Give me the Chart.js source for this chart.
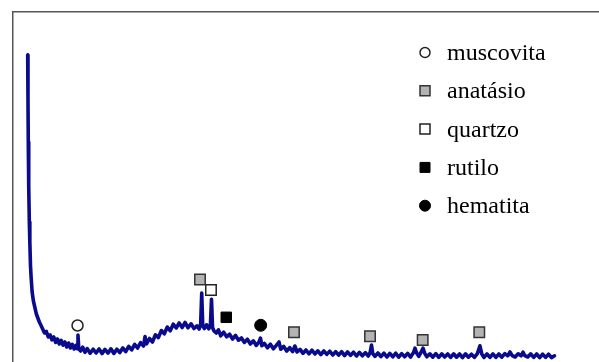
<!DOCTYPE html>
<html>
<head>
<meta charset="utf-8">
<script src="https://cdn.jsdelivr.net/npm/chart.js@4/dist/chart.umd.min.js"></script>
<style>
html,body{margin:0;padding:0;background:#fff;overflow:hidden;}
#wrap{width:599px;height:362px;position:relative;}
</style>
</head>
<body>
<div id="wrap"><canvas id="c" width="599" height="362"></canvas></div>
<script>
// XRD pattern: 2-theta (degrees) and intensity (counts)
const twoTheta = [1.98,2.02,2.06,2.12,2.2,2.27,2.36,2.45,2.58,2.75,2.95,3.15,3.35,3.55,3.75,4.0,
  4.25,4.5,4.75,5.0,5.25,5.5,5.75,6.0,6.25,6.5,6.75,7.0,7.25,7.5,7.75,8.0,8.25,8.5,8.65,8.76,8.87,
  9.1,9.4,9.7,10.0,10.4,10.8,11.2,11.6,12.0,12.4,12.8,13.2,13.6,14.0,14.4,14.8,15.2,15.6,16.0,16.4,16.8,17.2,17.6,17.8,
  18.0,18.4,18.8,19.2,19.6,20.0,20.4,20.8,21.2,21.6,22.0,22.4,22.8,23.2,23.6,24.0,24.4,24.8,
  25.1,25.3,25.44,25.58,25.8,26.1,26.4,26.62,26.76,26.9,
  27.1,27.4,27.7,28.0,28.4,28.8,29.2,29.6,30.0,30.4,30.8,31.2,31.6,32.0,32.4,32.8,33.15,33.36,33.55,
  33.9,34.3,34.7,35.1,35.5,35.86,36.1,36.5,36.9,37.3,37.7,38.0,38.3,
  38.7,39.1,39.5,39.9,40.3,40.7,41.1,41.5,41.9,42.3,42.7,43.1,43.5,43.9,44.3,44.7,45.1,45.5,45.9,46.3,46.7,47.1,47.5,47.9,48.15,48.33,48.5,
  48.8,49.2,49.6,50.0,50.4,50.8,51.2,51.6,52.0,52.4,52.8,53.2,53.6,54.0,54.19,54.4,54.7,55.0,55.27,55.5,
  55.8,56.2,56.6,57.0,57.4,57.8,58.2,58.6,59.0,59.4,59.8,60.2,60.6,61.0,61.4,61.8,62.2,62.6,62.95,63.2,
  63.5,63.9,64.3,64.7,65.1,65.5,65.9,66.3,66.7,67.0,67.3,67.7,68.1,68.5,68.75,69.0,
  69.4,69.8,70.2,70.6,71.0,71.4,71.8,72.2,72.6,73.0];
const intensity = [3070,2620,2200,1760,1400,1200,960,840,700,610,545,480,440,400,370,330,
  290,305,250,272,222,250,195,230,180,216,168,200,150,190,140,176,130,166,132,270,132,
  110,148,96,134,88,128,90,130,84,126,88,132,86,128,94,140,104,156,122,176,140,194,160,255,
  180,235,200,272,244,315,282,350,312,378,340,390,345,395,342,382,335,362,
  330,380,690,360,335,372,332,380,628,345,
  310,290,322,262,298,252,278,230,266,218,240,196,228,180,212,166,198,238,162,
  186,142,178,132,166,200,128,156,110,143,104,160,100,
  126,86,120,82,118,80,112,74,110,76,108,70,104,68,103,64,100,66,98,60,96,62,94,60,96,170,84,
  56,90,54,88,50,86,52,88,48,84,52,86,50,94,138,92,56,96,138,88,
  52,82,48,84,46,82,50,80,46,82,48,80,44,82,48,78,46,84,162,80,
  46,80,46,82,46,80,48,84,62,100,64,50,82,62,98,64,
  50,82,46,80,44,78,46,78,44,62];

// Phase markers (2-theta, height) and legend labels
const phaseLabels = ["muscovita","anatásio","quartzo","rutilo","hematita"];
const muscovitaX = [8.70],  muscovitaY = [365];
const anatasioX = [25.21,37.88,48.13,55.23,62.86], anatasioY = [825,297,257,220,297];
const quartzoX = [26.69], quartzoY = [720];
const rutiloX = [28.75], rutiloY = [447];
const hematitaX = [33.39], hematitaY = [367];

const pts = (xs, ys) => xs.map((x, i) => ({x: x, y: ys[i]}));

const styles = [
  {pointStyle:'circle', radius:5.5, bg:'#ffffff', bc:'#222222', bw:1.5},
  {pointStyle:'rect', radius:7.4, bg:'#b3b3b3', bc:'#333333', bw:1.5},
  {pointStyle:'rect', radius:7.4, bg:'#ffffff', bc:'#222222', bw:1.5},
  {pointStyle:'rect', radius:7.4, bg:'#000000', bc:'#000000', bw:1},
  {pointStyle:'circle', radius:6, bg:'#000000', bc:'#000000', bw:1}
];
const markerData = [pts(muscovitaX,muscovitaY), pts(anatasioX,anatasioY), pts(quartzoX,quartzoY), pts(rutiloX,rutiloY), pts(hematitaX,hematitaY)];

const datasets = [{
  label: 'DRX',
  type: 'line',
  data: pts(twoTheta, intensity),
  borderColor: '#0a0a8c',
  borderWidth: 3.6,
  borderCapStyle: 'round',
  borderJoinStyle: 'round',
  pointRadius: 0,
  tension: 0,
  fill: false,
  order: 2
}];
markerData.forEach((d, i) => {
  const s = styles[i];
  datasets.push({
    label: phaseLabels[i],
    type: 'scatter',
    data: d,
    pointStyle: s.pointStyle,
    pointRadius: s.radius,
    pointBackgroundColor: s.bg,
    pointBorderColor: s.bc,
    pointBorderWidth: s.bw,
    showLine: false,
    order: 1
  });
});

const legendPlugin = {
  id: 'phaseLegend',
  afterDraw(chart) {
    const ctx = chart.ctx;
    const mx = 425, tx = 447, base0 = 60, step = 38.3;
    const sizes = [5, 0, 0, 0, 5.5];
    ctx.save();
    ctx.font = '24px "Liberation Serif", "Times New Roman", serif';
    ctx.fillStyle = '#000';
    ctx.textBaseline = 'alphabetic';
    phaseLabels.forEach((lab, i) => {
      const by = base0 + i * step;
      const cy = by - 7.5;
      const s = styles[i];
      ctx.lineWidth = s.bw;
      ctx.strokeStyle = s.bc;
      ctx.fillStyle = s.bg;
      ctx.beginPath();
      if (s.pointStyle === 'circle') {
        ctx.arc(mx, cy, sizes[i], 0, Math.PI * 2);
      } else {
        ctx.rect(mx - 5, cy - 5, 10, 10);
      }
      ctx.fill();
      ctx.stroke();
      ctx.fillStyle = '#000';
      ctx.fillText(lab, tx, by);
    });
    ctx.restore();
  }
};

new Chart(document.getElementById('c'), {
  type: 'scatter',
  data: { datasets: datasets },
  options: {
    responsive: false,
    devicePixelRatio: 1,
    animation: false,
    layout: { autoPadding: false, padding: { left: 13, top: 12, right: 0, bottom: 0 } },
    plugins: { legend: { display: false }, tooltip: { enabled: false } },
    scales: {
      x: {
        type: 'linear', position: 'top', min: 0, max: 79,
        ticks: { display: false },
        grid: { display: false, drawTicks: false },
        border: { display: true, color: '#555555', width: 1.5 }
      },
      y: {
        type: 'linear', position: 'left', min: 0, max: 3500,
        ticks: { display: false },
        grid: { display: false, drawTicks: false },
        border: { display: true, color: '#555555', width: 1.5 }
      }
    }
  },
  plugins: [legendPlugin]
});
</script>
</body>
</html>
